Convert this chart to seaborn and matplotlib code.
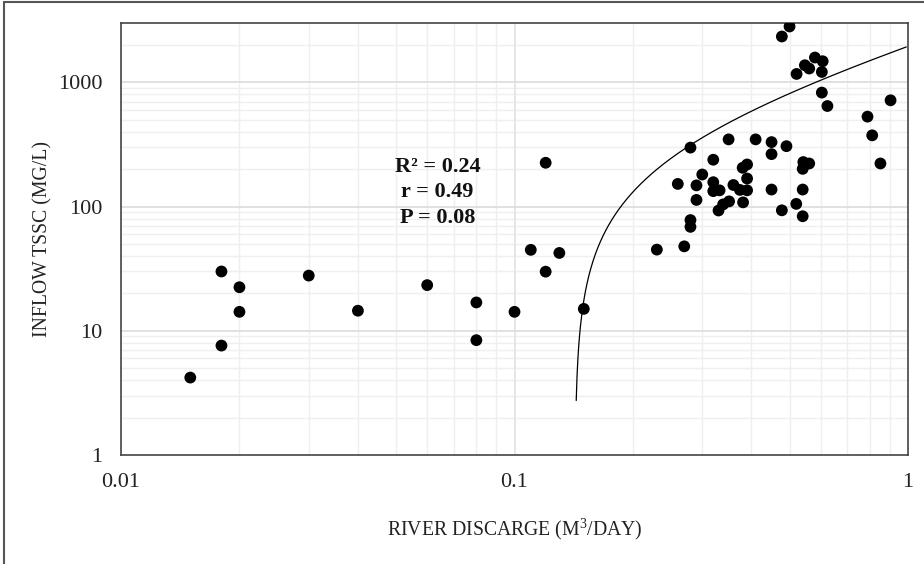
import numpy as np
import pandas as pd
import matplotlib
matplotlib.use("Agg")
import matplotlib.pyplot as plt
from matplotlib.ticker import FixedLocator, NullFormatter, FixedFormatter
from matplotlib.lines import Line2D
import seaborn as sns

# ---- data ----
discharge = [0.015, 0.018, 0.018, 0.020, 0.020, 0.030, 0.040, 0.060, 0.080, 0.080,
             0.100, 0.110, 0.120, 0.120, 0.130, 0.150,
             0.23, 0.27, 0.28, 0.28, 0.28, 0.29, 0.29, 0.26, 0.30, 0.32,
             0.32, 0.32, 0.332, 0.33, 0.339, 0.351, 0.35, 0.36, 0.374, 0.39,
             0.381, 0.39, 0.38, 0.39, 0.41, 0.45, 0.45, 0.45, 0.478, 0.491,
             0.478, 0.50, 0.52, 0.521, 0.542, 0.561, 0.54, 0.54, 0.54, 0.547,
             0.561, 0.58, 0.607, 0.604, 0.604, 0.624, 0.789, 0.811, 0.851, 0.903]
tssc = [4.2, 7.6, 30, 22.4, 14.2, 27.8, 14.5, 23.3, 16.9, 8.4,
        14.2, 44.8, 29.9, 225, 42.3, 15.0,
        45, 47.8, 68.6, 77.8, 298, 113, 148, 152, 181, 238,
        157, 133, 135, 92.9, 104, 110, 347, 149, 136, 135,
        108, 168, 205, 218, 347, 330, 264, 137, 93.2, 306,
        2336, 2813, 105, 1167, 228, 222, 201, 137, 83.5, 1371,
        1290, 1582, 1477, 1211, 826, 644, 529, 374, 222, 716]

# linear trendline (y = slope*x + intercept)
trend_slope = 2270.0
trend_intercept = -323.0
trend_x_range = [0.1435, 0.99]

x_ticks = [0.01, 0.1, 1]
x_tick_labels = ["0.01", "0.1", "1"]
y_ticks = [1, 10, 100, 1000]
y_tick_labels = ["1", "10", "100", "1000"]

stats_text = ["R\u00b2 = 0.24", "r = 0.49", "P = 0.08"]
x_label = "RIVER DISCARGE (M$^{3}$/DAY)"
y_label = "INFLOW TSSC (MG/L)"

# ---- plot ----
sns.set_style("white")
plt.rcParams["font.family"] = ["Liberation Serif", "DejaVu Serif"]
plt.rcParams["mathtext.fontset"] = "custom"
plt.rcParams["mathtext.rm"] = "Liberation Serif"

fig = plt.figure(figsize=(9.24, 5.64), dpi=100)
ax = fig.add_axes([121 / 924, 1 - 455 / 564, (908 - 121) / 924, (455 - 23) / 564])

df = pd.DataFrame({"discharge": discharge, "tssc": tssc})
tx = np.geomspace(trend_x_range[0], trend_x_range[1], 400)
tdf = pd.DataFrame({"x": tx, "y": trend_slope * tx + trend_intercept})

ax.set_xscale("log")
ax.set_yscale("log")
ax.set_xlim(0.01, 1)
ax.set_ylim(1, 3000)

# grid
minor_x = [m * 10.0 ** e for e in (-2, -1) for m in range(2, 10)]
minor_y = [m * 10.0 ** e for e in (0, 1, 2, 3) for m in range(2, 10) if m * 10.0 ** e < 3000]
for v in minor_x:
    ax.axvline(v, color="#efefef", lw=1.0, zorder=0)
for v in minor_y:
    ax.axhline(v, color="#efefef", lw=1.0, zorder=0)
for v in [0.1]:
    ax.axvline(v, color="#e2e2e2", lw=1.2, zorder=0)
for v in [10, 100, 1000]:
    ax.axhline(v, color="#dcdcdc", lw=1.2, zorder=0)

sns.lineplot(data=tdf, x="x", y="y", ax=ax, color="black", lw=0.9, zorder=2, sort=False)
sns.scatterplot(data=df, x="discharge", y="tssc", ax=ax, color="black", s=72,
                edgecolor="none", zorder=3)

ax.xaxis.set_major_locator(FixedLocator(x_ticks))
ax.xaxis.set_major_formatter(FixedFormatter(x_tick_labels))
ax.yaxis.set_major_locator(FixedLocator(y_ticks))
ax.yaxis.set_major_formatter(FixedFormatter(y_tick_labels))
ax.xaxis.set_minor_formatter(NullFormatter())
ax.yaxis.set_minor_formatter(NullFormatter())
ax.tick_params(which="both", length=0, labelsize=16, colors="#222222")
ax.tick_params(axis="x", pad=13)
ax.tick_params(axis="y", pad=13.5)

ax.set_xlabel(x_label, fontsize=14.2, color="#222222", labelpad=17)
ax.set_ylabel(y_label, fontsize=14.2, color="#222222", labelpad=4)

for s in ax.spines.values():
    s.set_color("#444444")
    s.set_linewidth(1.2)
    s.set_visible(True)

for i, t in enumerate(stats_text):
    ax.text(0.0637, 10 ** ((455 - (168 + 25 * i)) / 124.0), t, ha="center", va="center",
            fontsize=16, fontweight="bold", color="#111111", zorder=4)

# page frame (left and top edges)
fig.add_artist(Line2D([4 / 924, 4 / 924], [0, 1 - 2 / 564], color="#555555", lw=1.5))
fig.add_artist(Line2D([4 / 924, 1], [1 - 2 / 564, 1 - 2 / 564], color="#555555", lw=1.5))

fig.savefig("out.png", dpi=100)
